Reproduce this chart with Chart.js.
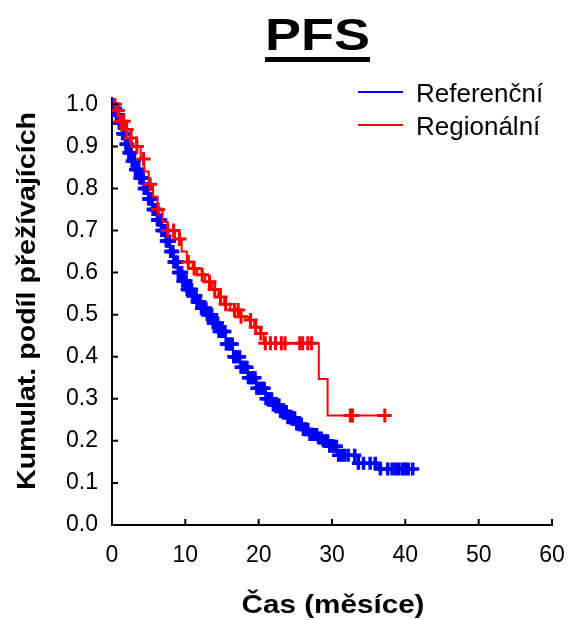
<!DOCTYPE html>
<html>
<head>
<meta charset="utf-8">
<script src="https://cdn.jsdelivr.net/npm/chart.js@4.4.0/dist/chart.umd.min.js"></script>
<style>
  html, body { margin: 0; padding: 0; background: #fff; }
</style>
</head>
<body>
<canvas id="kmChart" width="569" height="620"></canvas>
<script>
// axis ticks
const xTicks = [0, 10, 20, 30, 40, 50, 60];
const yTicks = [0.0, 0.1, 0.2, 0.3, 0.4, 0.5, 0.6, 0.7, 0.8, 0.9, 1.0];

const chartTitle = "PFS";
const xTitle = "Čas (měsíce)";
const yTitle = "Kumulat. podíl přežívajících";
const seriesNames = ["Referenční", "Regionální"];
const seriesColors = ["#0000ff", "#ff0000"];

// Referenční - survival steps (time, value from that time on)
const refTimes = [0, 0.3, 0.6, 1.0, 1.4, 1.8, 2.2, 2.7, 3.2, 3.7, 4.3, 4.9, 5.5, 6.1, 6.8, 7.3, 7.9, 8.4, 9.0, 9.6,
    10.2, 10.9, 11.5, 12.2, 13.0, 13.7, 14.5, 15.5, 16.5, 17.5, 18.5, 19.7, 21.0, 22.0, 23.0, 24.0, 25.0, 26.0,
    27.0, 28.0, 28.8, 29.7, 30.7, 33.5, 36.3, 41.5];
const refSurv = [1.0, 0.99, 0.975, 0.955, 0.93, 0.905, 0.885, 0.865, 0.845, 0.825, 0.8, 0.775, 0.75, 0.725, 0.7, 0.675,
    0.65, 0.625, 0.6, 0.58, 0.56, 0.545, 0.53, 0.515, 0.5, 0.48, 0.46, 0.43, 0.4, 0.375, 0.35, 0.325, 0.3, 0.285,
    0.27, 0.255, 0.24, 0.227, 0.215, 0.207, 0.2, 0.187, 0.166, 0.147, 0.133, 0.133];
// Referenční - censored times
const refCensor = [0.2, 0.35, 0.5, 0.6, 0.75, 0.9, 1.0, 1.15, 1.3, 1.45, 1.6, 1.75, 1.9, 2.0, 2.15, 2.3, 2.45, 2.6,
    2.75, 2.9, 3.05, 3.2, 3.35, 3.5, 3.65, 3.8, 3.95, 4.1, 4.25, 4.4, 4.55, 4.7, 4.85, 5.0, 5.15, 5.3, 5.45, 5.6,
    5.75, 5.9, 6.05, 6.2, 6.35, 6.5, 6.65, 6.8, 6.95, 7.1, 7.25, 7.4, 7.55, 7.7, 7.85, 8.0, 8.15, 8.3, 8.45, 8.6,
    8.75, 8.9, 9.05, 9.2, 9.35, 9.5, 9.65, 9.8, 9.95, 10.1, 10.25, 10.4, 10.55, 10.7, 10.85, 11.0, 11.15, 11.3,
    11.45, 11.6, 11.8, 12.0, 12.2, 12.4, 12.6, 12.8, 13.0, 13.2, 13.4, 13.6, 13.8, 14.0, 14.2, 14.4, 14.6, 14.8,
    15.0, 15.2, 15.4, 15.6, 15.8, 16.0, 16.2, 16.4, 16.6, 16.8, 17.0, 17.2, 17.4, 17.6, 17.8, 18.0, 18.2, 18.4,
    18.6, 18.8, 19.0, 19.25, 19.5, 19.75, 20.0, 20.25, 20.5, 20.75, 21.0, 21.25, 21.5, 21.75, 22.0, 22.25, 22.5,
    22.75, 23.0, 23.25, 23.5, 23.75, 24.0, 24.3, 24.6, 24.9, 25.2, 25.5, 25.8, 26.1, 26.4, 26.7, 27.0, 27.3,
    27.6, 27.9, 28.2, 28.5, 28.8, 29.1, 29.4, 29.7, 30.0, 30.3, 30.6, 30.9, 31.3, 31.7, 32.2, 33.1, 33.6, 34.3,
    35.2, 35.9, 36.6, 37.6, 38.2, 38.7, 39.1, 39.6, 40.0, 40.4, 41.0];

// Regionální - survival steps
const regTimes = [0, 0.5, 1.0, 1.8, 2.5, 3.3, 3.9, 4.4, 5.0, 5.6, 6.2, 6.9, 7.6, 8.6, 9.5, 10.2, 11.0, 11.6, 12.7,
    13.6, 14.5, 15.3, 16.1, 17.4, 18.6, 19.4, 20.2, 20.7, 28.2, 29.4, 37.5];
const regSurv = [1.0, 0.985, 0.96, 0.94, 0.92, 0.9, 0.87, 0.84, 0.81, 0.78, 0.75, 0.72, 0.70, 0.68, 0.65, 0.625, 0.61,
    0.595, 0.578, 0.56, 0.542, 0.525, 0.511, 0.495, 0.487, 0.47, 0.455, 0.432, 0.347, 0.26, 0.26];
// Regionální - censored times
const regCensor = [0.4, 0.8, 1.2, 1.6, 2.0, 2.6, 3.4, 4.3, 5.2, 6.3, 7.6, 8.4, 9.2, 10.4, 11.2, 12.3, 13.3, 14.0,
    14.8, 15.5, 16.7, 17.2, 17.6, 18.9, 19.6, 20.3, 20.9, 21.6, 22.3, 23.1, 23.6, 25.6, 26.0, 26.7, 27.2,
    32.5, 32.8, 37.2];

function toPoints(times, surv) {
    return times.map((t, i) => ({ x: t, y: surv[i] }));
}

// put a censor mark on the step curve at its time
function censorPoints(censor, times, surv) {
    return censor.map(t => {
        let s = surv[0];
        for (let i = 0; i < times.length; i++) {
            if (times[i] <= t) s = surv[i];
        }
        return { x: t, y: s };
    });
}

const font = "'Liberation Sans', Arial, sans-serif";

// text stretched along its direction to a given length
function drawText(ctx, text, x, y, f, len, rotate) {
    ctx.save();
    ctx.font = f;
    ctx.translate(x, y);
    if (rotate) ctx.rotate(-Math.PI / 2);
    const w = ctx.measureText(text).width;
    ctx.scale(len / w, 1);
    ctx.textAlign = "center";
    ctx.textBaseline = "alphabetic";
    ctx.fillText(text, 0, 0);
    ctx.restore();
}

const decor = {
    id: "decor",
    afterDraw(chart) {
        const ctx = chart.ctx;
        const xs = chart.scales.x, ys = chart.scales.y;
        const area = chart.chartArea;
        ctx.save();
        // inward tick marks
        ctx.strokeStyle = "#000";
        ctx.lineWidth = 2;
        ctx.beginPath();
        xTicks.forEach(v => {
            const px = xs.getPixelForValue(v);
            ctx.moveTo(px, area.bottom);
            ctx.lineTo(px, area.bottom - 6);
        });
        yTicks.forEach(v => {
            const py = ys.getPixelForValue(v);
            ctx.moveTo(area.left, py);
            ctx.lineTo(area.left + 6, py);
        });
        ctx.stroke();

        ctx.fillStyle = "#000";
        // title with underline
        drawText(ctx, chartTitle, 317.5, 50, "bold 44px " + font, 105, false);
        ctx.fillRect(265, 57, 105, 5);
        // axis titles
        drawText(ctx, xTitle, 333, 613, "bold 25px " + font, 183, false);
        drawText(ctx, yTitle, 35, 301, "bold 25px " + font, 378, true);

        // legend
        const rows = [92, 125];
        seriesNames.forEach((name, i) => {
            ctx.strokeStyle = seriesColors[i];
            ctx.lineWidth = 2;
            ctx.beginPath();
            ctx.moveTo(358, rows[i]);
            ctx.lineTo(403, rows[i]);
            ctx.stroke();
            ctx.fillStyle = "#000";
            ctx.font = "26px " + font;
            ctx.textAlign = "left";
            ctx.textBaseline = "alphabetic";
            ctx.fillText(name, 416, rows[i] + 9.5);
        });
        ctx.restore();
    }
};

new Chart(document.getElementById("kmChart"), {
    type: "scatter",
    data: {
        datasets: [
            {
                label: seriesNames[1],
                type: "line",
                data: toPoints(regTimes, regSurv),
                borderColor: seriesColors[1],
                borderWidth: 2,
                stepped: "before",
                pointRadius: 0,
                fill: false,
                order: 0,
            },
            {
                label: seriesNames[1] + " censored",
                data: censorPoints(regCensor, regTimes, regSurv),
                pointStyle: "cross",
                pointRadius: 7,
                borderColor: seriesColors[1],
                borderWidth: 3,
                order: 1,
            },
            {
                label: seriesNames[0],
                type: "line",
                data: toPoints(refTimes, refSurv),
                borderColor: seriesColors[0],
                borderWidth: 2,
                stepped: "before",
                pointRadius: 0,
                fill: false,
                order: 2,
            },
            {
                label: seriesNames[0] + " censored",
                data: censorPoints(refCensor, refTimes, refSurv),
                pointStyle: "cross",
                pointRadius: 6.5,
                borderColor: seriesColors[0],
                borderWidth: 3.5,
                order: 3,
            },
        ],
    },
    options: {
        responsive: false,
        animation: false,
        layout: { padding: { top: 98, right: 17, bottom: 0, left: 0 } },
        plugins: {
            legend: { display: false },
            tooltip: { enabled: false },
        },
        scales: {
            x: {
                type: "linear",
                min: 0,
                max: 60,
                afterBuildTicks: scale => { scale.ticks = xTicks.map(v => ({ value: v })); },
                afterFit: scale => {
                    scale.height = 95;
                    scale.paddingLeft = 0;
                    scale.paddingRight = 0;
                },
                grid: { display: false, drawTicks: false },
                border: { display: true, color: "#000", width: 2 },
                ticks: {
                    color: "#000",
                    padding: 17,
                    maxRotation: 0,
                    font: { family: font, size: 23 },
                    callback: v => String(v),
                },
            },
            y: {
                type: "linear",
                min: 0,
                max: 1.015,
                afterBuildTicks: scale => { scale.ticks = yTicks.map(v => ({ value: v })); },
                afterFit: scale => { scale.width = 112; },
                grid: { display: false, drawTicks: false },
                border: { display: true, color: "#000", width: 2 },
                ticks: {
                    color: "#000",
                    padding: 14,
                    font: { family: font, size: 23 },
                    callback: v => Number(v).toFixed(1),
                },
            },
        },
    },
    plugins: [decor],
});
</script>
</body>
</html>
